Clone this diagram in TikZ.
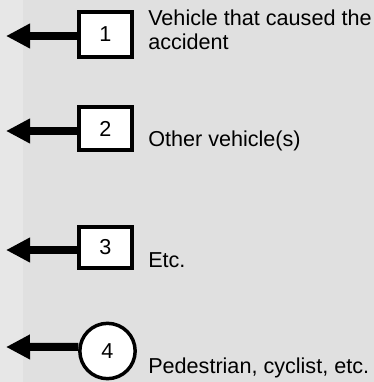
\documentclass[tikz,border=0pt]{standalone}
\usepackage{fontspec}
\setmainfont{Liberation Sans}
\usetikzlibrary{arrows.meta}

\tikzset{
  numbox/.style={draw,line width=2.6pt,fill=white,minimum width=40pt,inner sep=0pt},
  numcirc/.style={draw,circle,line width=2.6pt,fill=white,minimum size=41.5pt,inner sep=0pt},
  leftarr/.style={line width=6pt,-{Triangle[length=18pt,width=17.5pt]}},
  lbl/.style={anchor=base west,inner sep=0pt,align=left}
}

\begin{document}
\begin{tikzpicture}[x=0.75pt,y=-0.75pt,font=\fontsize{16.2}{18}\selectfont]

% 背景
\useasboundingbox (0,0) rectangle (374,382);
\fill[gray!24] (0,0) rectangle (374,382);
\fill[gray!19] (0,0) rectangle (23,382);

% 编号框
\node[numbox,minimum height=34pt] (b1) at (105.5,34.5) {1};
\node[numbox,minimum height=32.5pt] (b2) at (105.5,128.5) {2};
\node[numbox,minimum height=31pt] (b3) at (105.5,247.5) {3};
\node[numcirc] (c4) at (107.5,351) {4};

% 箭头尖端
\coordinate (t1) at (6,36);
\coordinate (t2) at (6,131);
\coordinate (t3) at (6,250);
\coordinate (t4) at (6,347);

% 左向箭头
\draw[leftarr] (b1.west |- t1) -- (t1);
\draw[leftarr] (b2.west |- t2) -- (t2);
\draw[leftarr] (b3.west |- t3) -- (t3);
\draw[leftarr] (c4.172) -- (t4);

% 说明文字（多行时 base 取末行基线）
\node[lbl] (l1) at (148,49) {Vehicle that caused the\\accident};
\node[lbl] (l2) at (148,146) {Other vehicle(s)};
\node[lbl] (l3) at (148,267) {Etc.};
\node[lbl] (l4) at (148,373) {Pedestrian, cyclist, etc.};

\end{tikzpicture}
\end{document}
